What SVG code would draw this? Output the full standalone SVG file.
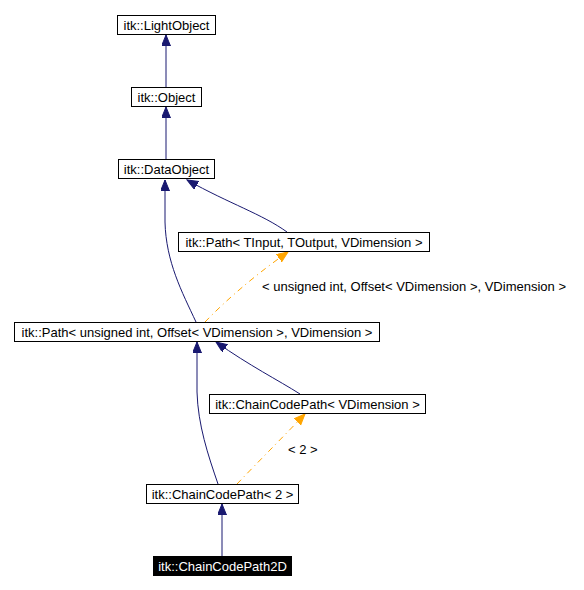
<svg xmlns="http://www.w3.org/2000/svg" width="584" height="590" viewBox="0 0 584 590">
<style>
.box{fill:#ffffff;stroke:#000000;stroke-width:1}
.dark{fill:#000000;stroke:#000000;stroke-width:1}
.t{font-family:"Liberation Sans",Arial,sans-serif;font-size:13px;fill:#000000;text-anchor:middle}
.tw{font-family:"Liberation Sans",Arial,sans-serif;font-size:13px;fill:#ffffff;text-anchor:middle}
.lbl{font-family:"Liberation Sans",Arial,sans-serif;font-size:13px;fill:#000000}
.inh{fill:none;stroke:#191970;stroke-width:1}
.tpl{fill:none;stroke:#ffa500;stroke-width:1;stroke-dasharray:6,4,1,4}
</style>
<defs>
<marker id="an" markerUnits="userSpaceOnUse" markerWidth="12" markerHeight="10" refX="11" refY="4.5" orient="auto">
<path d="M0,0 L11,4.5 L0,9 z" fill="#191970" stroke="#191970"/>
</marker>
<marker id="ao" markerUnits="userSpaceOnUse" markerWidth="12" markerHeight="10" refX="11" refY="4.5" orient="auto">
<path d="M0,0 L11,4.5 L0,9 z" fill="#ffa500" stroke="#ffa500"/>
</marker>
</defs>
<g id="connectors">
<path class="inh" d="M166,87 L166,35" marker-end="url(#an)"/>
<path class="inh" d="M166,159 L166,107" marker-end="url(#an)"/>
<path class="inh" d="M287,232 C262,214 230,204 187,180" marker-end="url(#an)"/>
<path class="inh" d="M196,322 C182,292 166,262 165,222 L165,180" marker-end="url(#an)"/>
<path class="tpl" d="M205,322 C230,296 262,270 288,252" marker-end="url(#ao)"/>
<path class="inh" d="M300,394 C278,380 250,366 216,342" marker-end="url(#an)"/>
<path class="inh" d="M218,484 C208,455 198,425 197,392 L197,342" marker-end="url(#an)"/>
<path class="tpl" d="M237,484 C258,462 282,438 305,414" marker-end="url(#ao)"/>
<path class="inh" d="M222,556 L222,504" marker-end="url(#an)"/>
<text class="lbl" x="262" y="291">&lt; unsigned int, Offset&lt; VDimension &gt;, VDimension &gt;</text>
<text class="lbl" x="288" y="454">&lt; 2 &gt;</text>
</g>
<g id="n_lightobject">
<rect class="box" x="117.5" y="15.5" width="98" height="19"/>
<text class="t" x="166.5" y="30">itk::LightObject</text>
</g>
<g id="n_object">
<rect class="box" x="131.5" y="87.5" width="70" height="19"/>
<text class="t" x="166.5" y="102">itk::Object</text>
</g>
<g id="n_dataobject">
<rect class="box" x="118.5" y="159.5" width="96" height="19"/>
<text class="t" x="166.5" y="174">itk::DataObject</text>
</g>
<g id="n_path_generic">
<rect class="box" x="178.5" y="232.5" width="251" height="19"/>
<text class="t" x="304" y="247">itk::Path&lt; TInput, TOutput, VDimension &gt;</text>
</g>
<g id="n_path_uint">
<rect class="box" x="14.5" y="322.5" width="365" height="19"/>
<text class="t" x="197" y="337">itk::Path&lt; unsigned int, Offset&lt; VDimension &gt;, VDimension &gt;</text>
</g>
<g id="n_ccp_generic">
<rect class="box" x="209.5" y="394.5" width="216" height="19"/>
<text class="t" x="317.5" y="409">itk::ChainCodePath&lt; VDimension &gt;</text>
</g>
<g id="n_ccp2">
<rect class="box" x="146.5" y="484.5" width="152" height="19"/>
<text class="t" x="222.5" y="499">itk::ChainCodePath&lt; 2 &gt;</text>
</g>
<g id="n_ccp2d">
<rect class="dark" x="153.5" y="556.5" width="138" height="19"/>
<text class="tw" x="222.5" y="571">itk::ChainCodePath2D</text>
</g>
</svg>
